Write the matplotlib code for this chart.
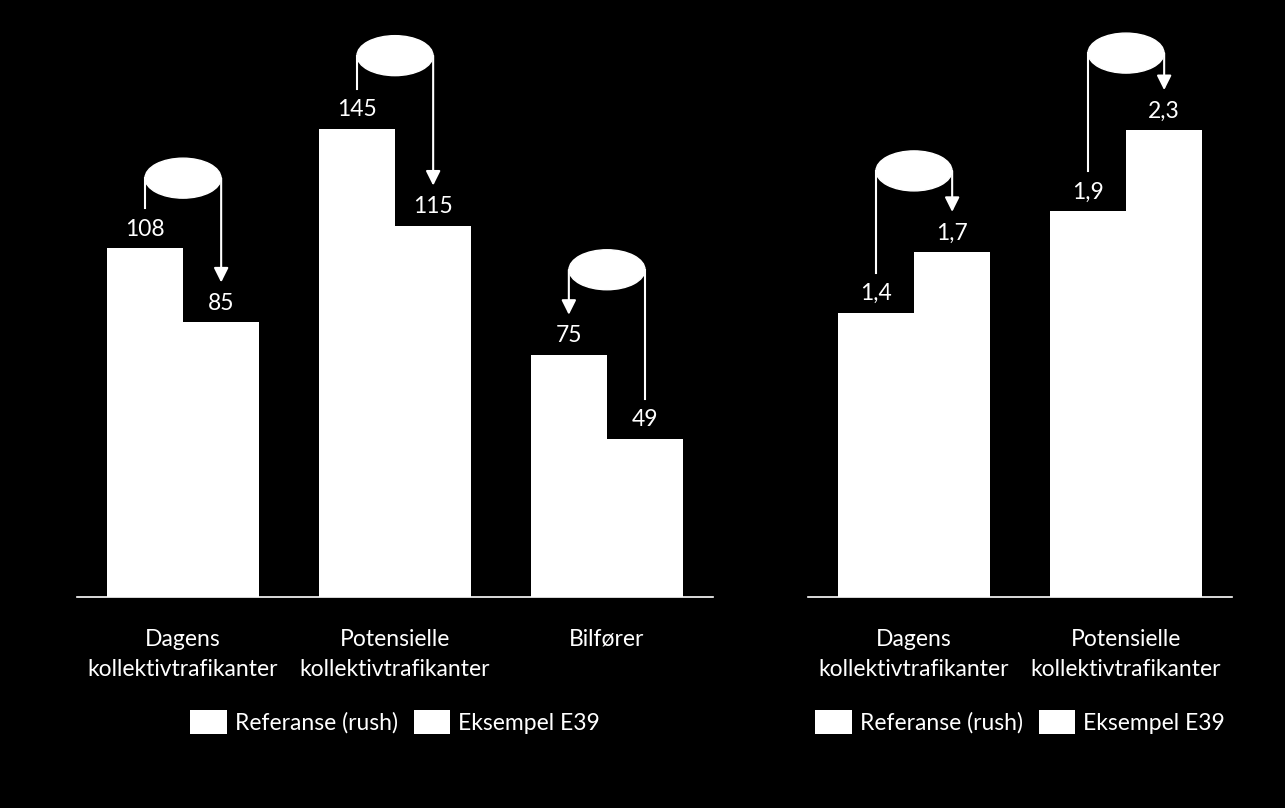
import matplotlib.pyplot as plt
from matplotlib.patches import Ellipse

# data
left_cats = ["Dagens\nkollektivtrafikanter", "Potensielle\nkollektivtrafikanter", "Bilfører"]
left_ref = [108, 145, 75]
left_eks = [85, 115, 49]
left_labels_ref = ["108", "145", "75"]
left_labels_eks = ["85", "115", "49"]

right_cats = ["Dagens\nkollektivtrafikanter", "Potensielle\nkollektivtrafikanter"]
right_ref = [1.4, 1.9]
right_eks = [1.7, 2.3]
right_labels_ref = ["1,4", "1,9"]
right_labels_eks = ["1,7", "2,3"]

series_names = ["Referanse (rush)", "Eksempel E39"]

# which bar the arrow points to in each group
left_arrow_to = ["eks", "eks", "ref"]
right_arrow_to = ["eks", "eks"]

# layout (pixels)
W, H = 1285, 808
BASE_Y = 597
TOP_Y = 20
AX_H = BASE_Y - TOP_Y
PX_PER_CAT = 212
BAR_W = 0.36
FONT = "Lato"
FS = 16.5

plt.rcParams["font.family"] = [FONT, "DejaVu Sans"]

fig = plt.figure(figsize=(W / 100, H / 100), dpi=100, facecolor="black")


def panel(x0, ncat, cats, ref, eks, lab_ref, lab_eks, arrow_to, px_per_unit, lifts):
    ax = fig.add_axes([x0 / W, (H - BASE_Y) / H, ncat * PX_PER_CAT / W, AX_H / H])
    ax.set_facecolor("black")
    ymax = AX_H / px_per_unit
    ax.set_xlim(-0.5, ncat - 0.5)
    ax.set_ylim(0, ymax)
    px_y = ymax / AX_H
    px_x = 1.0 / PX_PER_CAT

    xs = list(range(ncat))
    xr = [x - BAR_W / 2 for x in xs]
    xe = [x + BAR_W / 2 for x in xs]
    ax.bar(xr, ref, width=BAR_W, color="white", label=series_names[0])
    ax.bar(xe, eks, width=BAR_W, color="white", label=series_names[1])

    for i in xs:
        ax.text(xr[i], ref[i] + 19 * px_y, lab_ref[i], ha="center", va="center",
                color="white", fontsize=FS)
        ax.text(xe[i], eks[i] + 19 * px_y, lab_eks[i], ha="center", va="center",
                color="white", fontsize=FS)

        yc = max(ref[i], eks[i]) + lifts[i] * px_y
        ax.add_patch(Ellipse((i, yc), width=76 * px_x, height=40 * px_y,
                             facecolor="white", edgecolor="white", zorder=3))
        for xb, val, key in ((xr[i], ref[i], "ref"), (xe[i], eks[i], "eks")):
            end = val + 40 * px_y
            if arrow_to[i] == key:
                ax.annotate("", xy=(xb, end), xytext=(xb, yc),
                            arrowprops=dict(arrowstyle="-|>", color="white", lw=1.5,
                                            mutation_scale=22, shrinkA=0, shrinkB=0))
            else:
                ax.plot([xb, xb], [yc, end], color="white", lw=1.5)

    for s in ("top", "left", "right"):
        ax.spines[s].set_visible(False)
    ax.spines["bottom"].set_color("white")
    ax.spines["bottom"].set_linewidth(1.2)
    ax.set_yticks([])
    ax.set_xticks(xs)
    ax.set_xticklabels(cats, color="white", fontsize=FS, linespacing=1.55)
    ax.tick_params(axis="x", length=0, pad=23)

    leg = ax.legend(loc="center", bbox_to_anchor=(0.5, -(722 - BASE_Y) / AX_H), ncol=2,
                    frameon=False, fontsize=FS, handlelength=1.6, handleheight=1.25,
                    handletextpad=0.35, columnspacing=0.7, borderaxespad=0)
    for t in leg.get_texts():
        t.set_color("white")
    return ax


panel(77, 3, left_cats, left_ref, left_eks, left_labels_ref, left_labels_eks,
      left_arrow_to, 3.23, [70, 73, 85])
panel(808, 2, right_cats, right_ref, right_eks, right_labels_ref, right_labels_eks,
      right_arrow_to, 203, [81, 77])

fig.savefig("out.png", dpi=100, facecolor="black")
